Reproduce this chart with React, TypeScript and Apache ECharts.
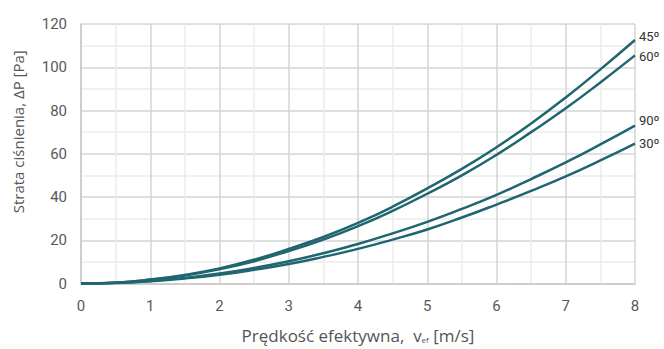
import React, { useEffect, useRef } from "react";
import * as echarts from "echarts";

const xValues = [0, 0.5, 1, 1.5, 2, 2.5, 3, 3.5, 4, 4.5, 5, 5.5, 6, 6.5, 7, 7.5, 8];
const s45 = [0, 0.4, 1.8, 4, 7, 11, 16, 21.5, 28, 35.5, 44, 53, 63, 74, 86, 99, 112.6];
const s60 = [0, 0.4, 1.7, 3.7, 6.6, 10.3, 15, 20.3, 26.5, 33.6, 41.5, 50, 59.5, 70, 81, 93, 105.5];
const s90 = [0, 0.3, 1.2, 2.6, 4.6, 7.2, 10.3, 14, 18.3, 23.2, 28.5, 34.5, 41, 48.3, 56, 64.3, 73];
const s30 = [0, 0.25, 1, 2.3, 4, 6.3, 9, 12.3, 16, 20.3, 25, 30.5, 36.5, 42.8, 49.5, 56.9, 64.7];

const seriesNames = ["45º", "60º", "90º", "30º"];
const seriesData = [s45, s60, s90, s30];
const labelOffsets = [-4, 1, -5, 0];

const lineColor = "#1f6670";
const font = "Roboto";
const nameFont = "Open Sans";

export default function App() {
  const ref = useRef<HTMLDivElement>(null);
  useEffect(() => {
    const chart = echarts.init(ref.current!, null, { renderer: "svg" });
    chart.setOption({
      animation: false,
      grid: { left: 81, right: 29, top: 24, bottom: 64 },
      xAxis: {
        type: "value",
        min: 0,
        max: 8,
        interval: 1,
        name: "{n|Prędkość efektywna,  v}{s|ef}{n| [m/s]}",
        nameLocation: "middle",
        nameGap: 43,
        nameTextStyle: {
          rich: {
            n: { fontFamily: nameFont, fontSize: 17, lineHeight: 18, color: "#555" },
            s: { fontFamily: nameFont, fontSize: 8, lineHeight: 18, color: "#555", padding: [8, 0, 0, 0] },
          },
        },
        axisLine: { show: true, lineStyle: { color: "#c8c8c8", width: 1.5 } },
        axisTick: { show: false },
        axisLabel: { fontFamily: font, fontSize: 15, color: "#595959", margin: 15 },
        splitLine: { show: true, lineStyle: { color: "#d4d4d4", width: 1.5 } },
        minorTick: { show: false, splitNumber: 2 },
        minorSplitLine: { show: true, lineStyle: { color: "#ececec", width: 1.5 } },
      },
      yAxis: {
        type: "value",
        min: 0,
        max: 120,
        interval: 20,
        name: "Strata ciśnienia, ΔP [Pa]",
        nameLocation: "middle",
        nameGap: 56,
        nameTextStyle: { fontFamily: nameFont, fontSize: 15, color: "#555", padding: [0, 0, 0, 44] },
        axisLine: { show: true, lineStyle: { color: "#c8c8c8", width: 1.5 } },
        axisTick: { show: false },
        axisLabel: { fontFamily: font, fontSize: 15, color: "#595959", margin: 14 },
        splitLine: { show: true, lineStyle: { color: "#d4d4d4", width: 1.5 } },
        minorTick: { show: false, splitNumber: 2 },
        minorSplitLine: { show: true, lineStyle: { color: "#ececec", width: 1.5 } },
      },
      series: seriesNames.map((name, i) => ({
        name,
        type: "line",
        smooth: true,
        showSymbol: false,
        symbol: "none",
        data: xValues.map((x, j) => [x, seriesData[i][j]]),
        lineStyle: { color: lineColor, width: 2.5 },
        endLabel: {
          show: true,
          formatter: name,
          fontFamily: font,
          fontSize: 13,
          color: "#333",
          distance: 4,
          offset: [0, labelOffsets[i]],
        },
      })),
    });
    return () => chart.dispose();
  }, []);
  return (
    <div
      ref={ref}
      style={{ width: 664, height: 349, position: "absolute", left: 0, top: 0, overflow: "hidden" }}
    />
  );
}
